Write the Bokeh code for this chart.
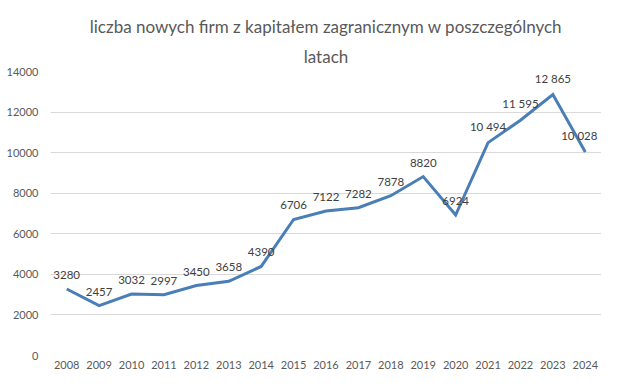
from bokeh.plotting import figure
from bokeh.models import ColumnDataSource, LabelSet, Title, FactorRange, Range1d, FixedTicker
from bokeh.core.properties import value
from bokeh.embed import file_html
from bokeh.resources import INLINE

years = [str(y) for y in range(2008, 2025)]
values = [3280, 2457, 3032, 2997, 3450, 3658, 4390, 6706, 7122, 7282, 7878, 8820, 6924, 10494, 11595, 12865, 10028]
value_labels = ["3280", "2457", "3032", "2997", "3450", "3658", "4390", "6706", "7122", "7282", "7878", "8820", "6924",
                "10 494", "11 595", "12 865", "10 028"]
y_ticks = [0, 2000, 4000, 6000, 8000, 10000, 12000, 14000]
title_line1 = "liczba nowych firm z kapitałem zagranicznym w poszczególnych"
title_line2 = "latach"

FONT = "Lato"
source = ColumnDataSource(dict(x=years, y=values, lbl=value_labels))
src_main = ColumnDataSource(dict(x=years[:-1], y=values[:-1], lbl=value_labels[:-1]))
src_last = ColumnDataSource(dict(x=years[-1:], y=values[-1:], lbl=value_labels[-1:]))

p = figure(width=601, height=373, x_range=FactorRange(*years, range_padding=0),
           y_range=Range1d(0, 14000), output_backend="svg", toolbar_location=None,
           min_border_left=50, min_border_right=0, min_border_top=71, min_border_bottom=18)
p.outline_line_color = None
p.background_fill_color = "white"
p.border_fill_color = "white"

p.line("x", "y", source=source, line_color="#4a7eb6", line_width=3, line_join="miter")

label_style = dict(y_offset=10, text_align="center", text_baseline="bottom",
                   text_font=value(FONT), text_font_size="11.5px", text_color="#404040")
p.add_layout(LabelSet(x="x", y="y", text="lbl", source=src_main, **label_style))
p.add_layout(LabelSet(x="x", y="y", text="lbl", source=src_last, x_offset=-6, **label_style))

p.xgrid.grid_line_color = None
p.ygrid.grid_line_color = "#d9d9d9"
p.ygrid.grid_line_width = 1

p.yaxis.ticker = FixedTicker(ticks=y_ticks)
for ax in (p.xaxis[0], p.yaxis[0]):
    ax.axis_line_color = None
    ax.major_tick_line_color = None
    ax.minor_tick_line_color = None
    ax.major_tick_in = 0
    ax.major_tick_out = 0
    ax.major_label_text_font = FONT
    ax.major_label_text_font_size = "11px"
    ax.major_label_text_color = "#595959"
p.yaxis.major_label_standoff = 12
p.xaxis.major_label_standoff = 5

t2 = Title(text=title_line2, align="center", text_font=FONT, text_font_size="17px",
           text_font_style="normal", text_color="#595959", offset=0, standoff=10)
t1 = Title(text=title_line1, align="center", text_font=FONT, text_font_size="17px",
           text_font_style="normal", text_color="#595959", offset=0, standoff=3)
p.add_layout(t2, "above")
p.add_layout(t1, "above")

open("out.html", "w").write(file_html(p, INLINE))
